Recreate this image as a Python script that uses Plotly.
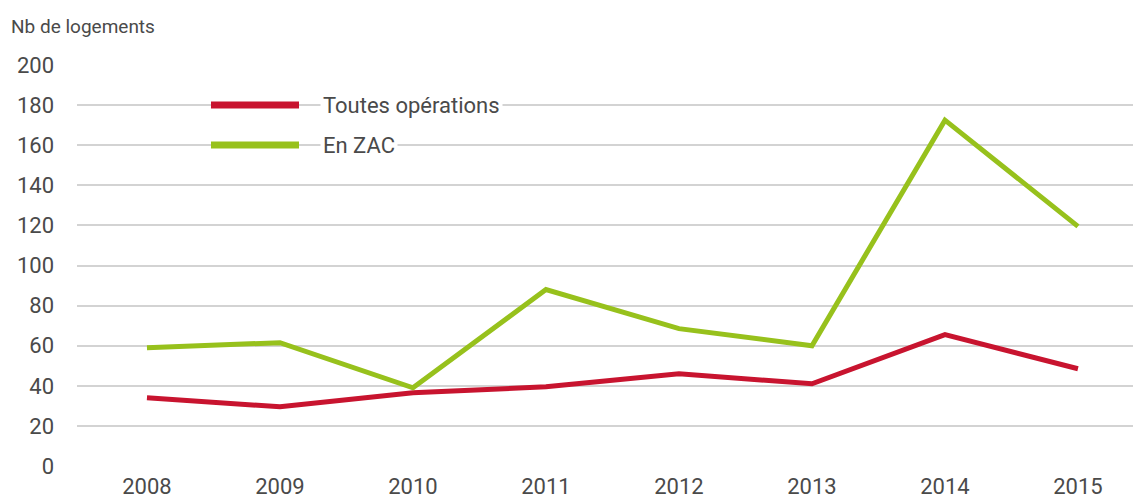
import plotly.graph_objects as go

years = [2008, 2009, 2010, 2011, 2012, 2013, 2014, 2015]
toutes_operations = [34, 29.5, 36.5, 39.5, 46, 41, 65.5, 48.5]
en_zac = [59, 61.5, 39, 88, 68.5, 60, 172.5, 119.5]
y_ticks = [0, 20, 40, 60, 80, 100, 120, 140, 160, 180, 200]

RED = "#C8142F"
GREEN = "#97C11C"
TXT = "#4a4a4a"
FONT = "Roboto, sans-serif"

fig = go.Figure()
fig.add_trace(go.Scatter(x=years, y=toutes_operations, mode="lines", name="Toutes opérations",
                         line=dict(color=RED, width=5)))
fig.add_trace(go.Scatter(x=years, y=en_zac, mode="lines", name="En ZAC",
                         line=dict(color=GREEN, width=5)))

# page body has an 8px margin: figure is drawn from (8, 8) on screen
OFF = 8
W, H = 1141 - OFF, 499 - OFF
PL, PR, PT, PB = 77, 1141, 65, 466  # plot area in screen pixels
L, R, T, B = PL - OFF, 0, PT - OFF, H - (PB - OFF)
pw, ph = PR - PL, PB - PT

def px_x(x):
    return (x - PL) / pw

def px_y(y):
    return (PB - y) / ph

# manual legend
for name, color, ypix in [("Toutes opérations", RED, 105), ("En ZAC", GREEN, 145)]:
    fig.add_shape(type="line", xref="paper", yref="paper",
                  x0=px_x(211), x1=px_x(299), y0=px_y(ypix), y1=px_y(ypix),
                  line=dict(color=color, width=7))
    fig.add_annotation(xref="paper", yref="paper", x=px_x(320), y=px_y(ypix),
                       xanchor="left", yanchor="middle", text=name, showarrow=False,
                       bgcolor="white", borderpad=2,
                       font=dict(family=FONT, size=22, color=TXT))

fig.add_annotation(xref="paper", yref="paper", x=px_x(9), y=px_y(27),
                   xanchor="left", yanchor="middle", text="Nb de logements", showarrow=False,
                   font=dict(family=FONT, size=19, color=TXT))

fig.update_layout(
    width=W, height=H,
    margin=dict(l=L, r=R, t=T, b=B, pad=0),
    paper_bgcolor="white", plot_bgcolor="white",
    showlegend=False,
    font=dict(family=FONT, size=22, color=TXT),
    xaxis=dict(range=[2007.474, 2015.474], tickmode="array", tickvals=years,
               ticktext=[str(y) for y in years], showgrid=False, zeroline=False,
               showline=False, ticks="", ticklabelstandoff=5,
               tickfont=dict(family=FONT, size=22, color=TXT)),
    yaxis=dict(range=[0, 200], tickmode="array", tickvals=y_ticks,
               showgrid=True, gridcolor="#D3D3D3", gridwidth=2, zeroline=False,
               showline=False, ticks="", ticklabelstandoff=22,
               tickfont=dict(family=FONT, size=22, color=TXT)),
)

fig.write_html("out.html")
